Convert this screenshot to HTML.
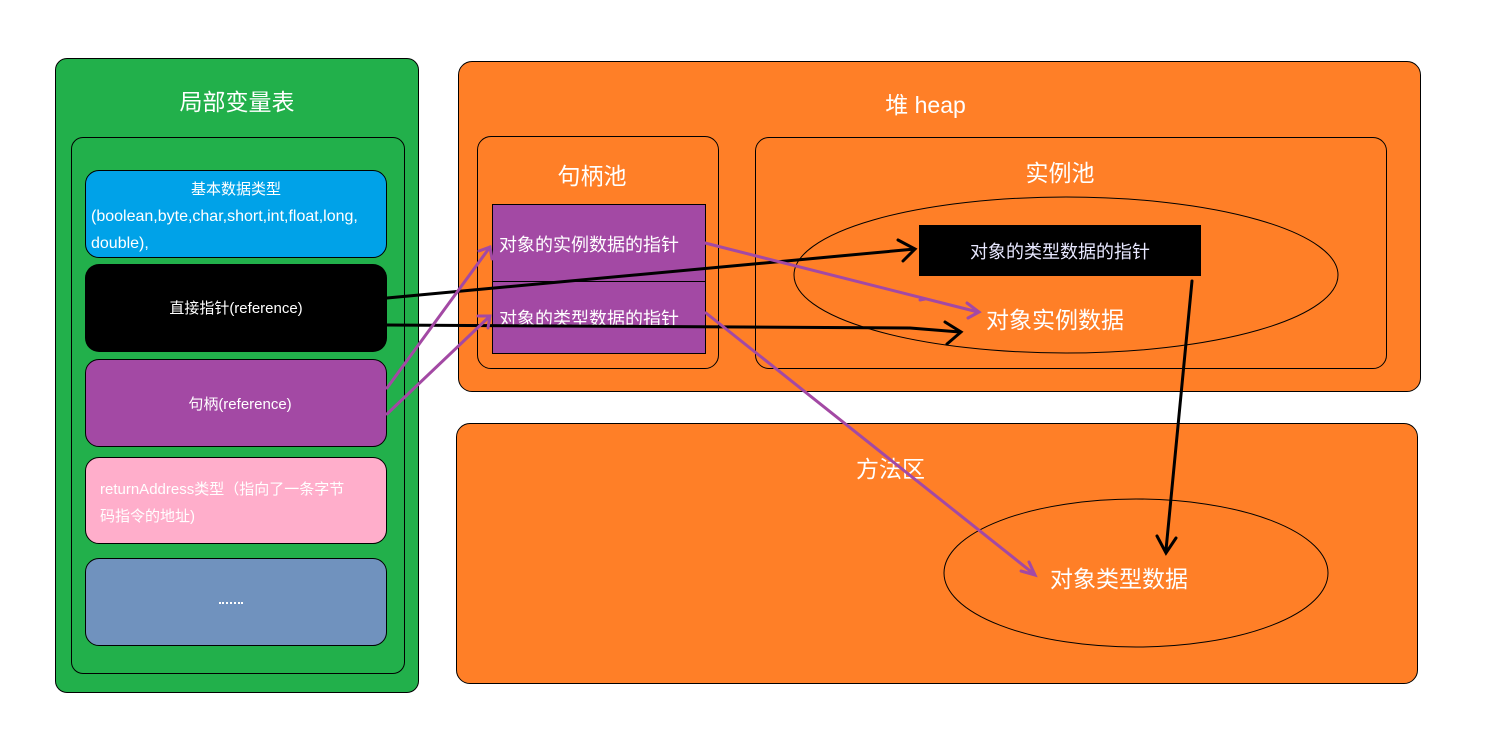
<!DOCTYPE html>
<html><head><meta charset="utf-8"><style>
body{margin:0;width:1498px;height:756px;background:#fff;position:relative;overflow:hidden;font-family:"Liberation Sans","Noto Sans CJK SC",sans-serif;color:#fff}
.a{position:absolute;box-sizing:border-box}
.t{position:absolute;white-space:nowrap}
</style></head><body>
<div class="a" style="left:55px;top:58px;width:364px;height:635px;background:#22b04b;border:1px solid #000;border-radius:12px"></div>
<div class="t" style="left:55px;width:364px;text-align:center;top:83px;font-size:23px">局部变量表</div>
<div class="a" style="left:71px;top:137px;width:334px;height:537px;border:1px solid #000;border-radius:12px"></div>
<div class="a" style="left:85px;top:170px;width:302px;height:88px;background:#00a2e8;border:1px solid #000;border-radius:14px"></div>
<div class="t" style="left:85px;width:302px;text-align:center;top:178px;font-size:15px">基本数据类型</div>
<div class="t" style="left:91px;top:203px;font-size:16px;line-height:27px">(boolean,byte,char,short,int,float,long,<br>double),</div>
<div class="a" style="left:85px;top:264px;width:302px;height:88px;background:#000;border-radius:14px"></div>
<div class="t" style="left:85px;width:302px;text-align:center;top:297px;font-size:15px">直接指针(reference)</div>
<div class="a" style="left:85px;top:359px;width:302px;height:88px;background:#a349a4;border:1px solid #000;border-radius:14px"></div>
<div class="t" style="left:85px;width:310px;text-align:center;top:393px;font-size:15px">句柄(reference)</div>
<div class="a" style="left:85px;top:457px;width:302px;height:87px;background:#ffaecb;border:1px solid #000;border-radius:14px"></div>
<div class="t" style="left:100px;top:476px;font-size:15px;line-height:27px">returnAddress类型（指向了一条字节<br>码指令的地址)</div>
<div class="a" style="left:85px;top:558px;width:302px;height:88px;background:#7092be;border:1px solid #000;border-radius:14px"></div>
<div class="a" style="left:219px;top:602px;width:24px;height:2px;border-top:2px dotted #fff"></div>

<div class="a" style="left:458px;top:61px;width:963px;height:331px;background:#ff7f27;border:1px solid #000;border-radius:14px"></div>
<div class="t" style="left:458px;width:935px;text-align:center;top:86px;font-size:23px">堆 heap</div>
<div class="a" style="left:477px;top:136px;width:242px;height:233px;border:1px solid #000;border-radius:14px"></div>
<div class="t" style="left:477px;width:230px;text-align:center;top:157px;font-size:23px">句柄池</div>
<div class="a" style="left:492px;top:204px;width:214px;height:150px;background:#a349a4;border:1px solid #000"></div>
<div class="a" style="left:492px;top:281px;width:214px;height:1px;background:#000"></div>
<div class="t" style="left:499px;top:231px;font-size:18px">对象的实例数据的指针</div>
<div class="t" style="left:499px;top:305px;font-size:18px">对象的类型数据的指针</div>
<div class="a" style="left:755px;top:137px;width:632px;height:232px;border:1px solid #000;border-radius:14px"></div>
<div class="t" style="left:755px;width:610px;text-align:center;top:154px;font-size:23px">实例池</div>

<div class="a" style="left:456px;top:423px;width:962px;height:261px;background:#ff7f27;border:1px solid #000;border-radius:14px"></div>
<div class="t" style="left:856px;top:450px;font-size:23px">方法区</div>

<svg class="a" style="left:0;top:0" width="1498" height="756">
<ellipse cx="1066" cy="275" rx="272" ry="78" fill="none" stroke="#000" stroke-width="1"/>
<ellipse cx="1136" cy="573" rx="192" ry="74" fill="none" stroke="#000" stroke-width="1"/>
<rect x="919" y="225" width="282" height="51" fill="#000"/>
<g fill="none" stroke-width="3" stroke-linecap="round">
<path d="M387 298 L915 249 M898 240 L915 249 L903 261" stroke="#000"/>
<path d="M387 325 L910 328 L960 332 M945 322 L961 332 L947 344" stroke="#000"/>
<path d="M1192 281 L1166 550 M1157 536 L1166 553 L1176 538" stroke="#000"/>
<path d="M387 388 L490 247 M479 251 L490 247 L492 259" stroke="#a349a4"/>
<path d="M387 414 L490 316 M478 316 L490 316 L488 328" stroke="#a349a4"/>
<path d="M705 243 L978 312 M920 300 L925 299 M967 303 L979 312 L968 318" stroke="#a349a4"/>
<path d="M706 313 L1034 574 M1021 571 L1035 575 L1029 562" stroke="#a349a4"/>
</g>
</svg>
<div class="t" style="left:919px;width:282px;text-align:center;top:238px;font-size:18px;color:#e8e8ff">对象的类型数据的指针</div>
<div class="t" style="left:986px;top:301px;font-size:23px">对象实例数据</div>
<div class="t" style="left:1050px;top:560px;font-size:23px">对象类型数据</div>
</body></html>
